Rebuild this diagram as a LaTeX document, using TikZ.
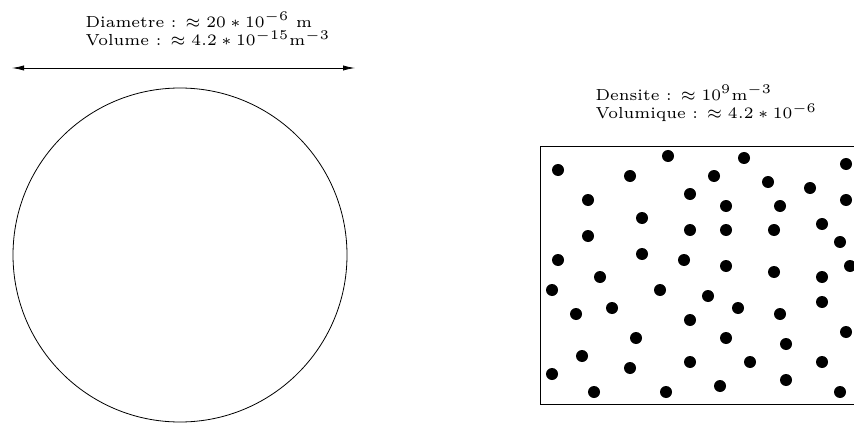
\documentclass[tikz,border=0pt]{standalone}
\usepackage{amsmath}
\usetikzlibrary{arrows.meta,positioning}

\begin{document}
\begin{tikzpicture}[x=0.5pt, y=-0.5pt,
    info/.style={align=left, inner sep=0pt, anchor=north west,
      font=\fontsize{6}{6}\selectfont, scale=1.33}]
    \clip (0,0) rectangle (854,422);

    % the cell and its size
    \node[info] (celltext) at (85,11)
      {Diametre : $\approx 20*10^{-6}$ m\\Volume : $\approx 4.2*10^{-15}\mathrm{m}^{-3}$};
    \coordinate (diamL) at (12,68);
    \coordinate (diamR) at (355,68);
    \draw[{Latex[length=6pt,width=2.6pt]}-{Latex[length=6pt,width=2.6pt]}] (diamL) -- (diamR);
    \draw (180,255) circle[radius=167];

    % the box of particles
    \node[info] (densitytext) at (595,84)
      {Densite : $\approx 10^9\mathrm{m}^{-3}$\\Volumique : $\approx 4.2*10^{-6}$};
    \draw (540,146) rectangle (870,404);
    \foreach \x/\y in {558/170,668/156,744/158,846/164,630/176,714/176,768/182,
      810/188,588/200,690/194,726/206,780/206,846/200,642/218,822/224,588/236,
      690/230,726/230,774/230,840/242,558/260,642/254,684/260,726/266,774/272,
      822/277,850/266,600/277,552/290,660/290,708/296,822/302,576/314,612/308,
      738/308,780/314,690/320,636/338,726/338,846/332,786/344,582/356,690/362,
      750/362,822/362,630/368,552/374,786/380,720/386,594/392,666/392,840/392}
      \fill (\x,\y) circle[radius=6];
\end{tikzpicture}
\end{document}
